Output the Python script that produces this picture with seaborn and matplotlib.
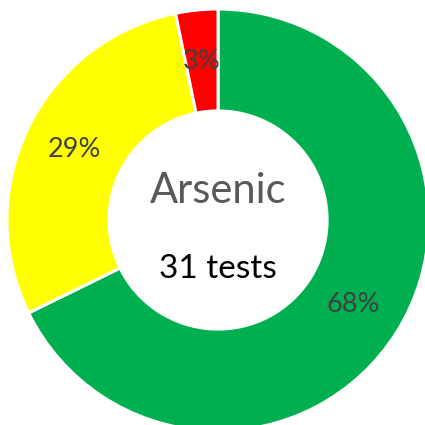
import matplotlib
matplotlib.use("Agg")
import matplotlib.pyplot as plt
import seaborn as sns

categories = ["Pass", "Warning", "Fail"]
counts = [21, 9, 1]
colors = ["#00B050", "#FFFF00", "#FF0000"]
title = "Arsenic"
subtitle = "31 tests"

sns.set_style("white")
plt.rcParams['font.family'] = ['Lato', 'DejaVu Sans']

fig = plt.figure(figsize=(4.25, 4.25), dpi=100)
ax = fig.add_axes([0, 0, 1, 1])
palette = sns.color_palette(colors)

wedges, texts, autotexts = ax.pie(
    counts, colors=palette, startangle=90, counterclock=False,
    radius=1.0, autopct='%.0f%%', pctdistance=0.757,
    wedgeprops=dict(width=0.483, edgecolor='white', linewidth=2.2),
    textprops=dict(color='#404040', fontsize=19.5),
)
ax.set_aspect('equal')
ax.set_xlim(-218/211, (425-218)/211)
ax.set_ylim(-(425-220)/211, 220/211)
ax.axis('off')

ax.text(0, 0.081, title, ha='center', va='baseline', fontsize=30, color='#595959')
ax.text(0, -0.275, subtitle, ha='center', va='baseline', fontsize=24, color='black')

fig.savefig("out.png", dpi=100, facecolor='white')
